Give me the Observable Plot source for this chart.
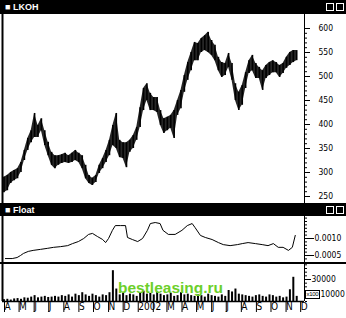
<!DOCTYPE html>
<html><head><meta charset="utf-8">
<script src="https://cdn.jsdelivr.net/npm/d3@7"></script>
<script src="https://cdn.jsdelivr.net/npm/@observablehq/plot@0.6"></script>
<style>
body{margin:0;background:#fff}
#root{position:relative;width:346px;height:318px;overflow:hidden;background:#fff}
.bar{position:absolute;left:0;width:346px;background:#000;color:#fff;font:bold 9px 'Liberation Sans','DejaVu Sans',sans-serif}
.bar .t{position:absolute;left:5px;top:1px;line-height:12px}
.bar .ic{position:absolute;top:3px;width:6px;height:6px;border:1px solid #fff}
.pl{position:absolute;left:0}
.sep{position:absolute;left:0;width:346px;height:2px;background:#000}
.wm{position:absolute;left:118px;top:279px;color:#6ccf2a;font:bold 15.5px 'Liberation Sans',Arial,sans-serif}
.x100{position:absolute;left:305px;top:290px;width:13px;height:7px;border:1px solid #000;background:#fff;font:6px 'Liberation Sans','DejaVu Sans',sans-serif;line-height:7px;text-align:center;color:#000;letter-spacing:-0.3px}
</style>
</head><body>
<div id="root">
  <div class="bar" style="top:0;height:14px"><span class="t">&#9632; LKOH</span><span class="ic" style="left:326px"></span><span class="ic" style="left:336px"></span></div>
  <div id="p1" class="pl" style="top:14px"></div>
  <div class="bar" style="top:203px;height:13px"><span class="t">&#9632; Float</span><span class="ic" style="left:326px"></span><span class="ic" style="left:336px"></span></div>
  <div id="p2" class="pl" style="top:216px"></div>
  <div class="sep" style="top:262px"></div>
  <div id="p3" class="pl" style="top:264px"></div>
  <div class="wm">bestleasing.ru</div>
  <div class="x100">x100</div>
</div>
<script>
// ---- data ----
const weekStart = "2001-04-04"; // weekly bars, one per 7 days
const priceHigh = [290,294,300,304,308,321,346,371,387,423,398,412,387,363,342,335,335,337,340,335,340,346,340,335,315,294,288,294,315,329,346,367,398,423,367,362,362,367,377,394,435,475,485,465,456,456,429,412,415,419,429,450,471,502,529,550,571,569,579,585,592,575,565,540,529,527,548,527,485,467,481,508,533,544,527,519,512,523,529,533,529,523,527,540,550,554,554];
const priceLow = [258,262,277,283,287,300,325,346,362,373,373,387,356,335,315,308,315,319,321,319,321,325,321,308,287,277,273,279,298,308,321,335,356,350,331,329,310,342,350,367,394,429,450,429,429,425,398,381,387,392,371,419,433,467,492,512,533,533,550,554,550,544,533,512,498,502,519,492,450,429,440,475,506,512,496,496,471,496,502,508,508,498,506,517,523,529,533];
const volume = [2500,3000,2000,3500,4000,3000,5000,4500,6000,8000,5000,6000,7000,5500,6000,7000,6000,8000,7000,9000,6000,10000,8000,12000,9000,7000,10000,8000,6000,9000,8000,12000,42000,17000,9000,11000,8000,10000,9000,7000,12000,14000,10000,11000,9000,13000,10000,8000,9000,11000,7000,8000,12000,9000,10000,8000,7000,9000,8000,6000,10000,8000,7000,6000,9000,7000,15000,13000,17000,10000,9000,8000,7000,6000,8000,9000,7000,6000,9000,8000,6000,7000,5000,6000,16000,33000,7000];
const floatDates = ["2001-04-07","2001-04-21","2001-05-01","2001-05-08","2001-05-14","2001-05-24","2001-06-03","2001-06-18","2001-07-02","2001-07-15","2001-07-29","2001-08-13","2001-08-23","2001-09-04","2001-09-15","2001-09-25","2001-10-03","2001-10-13","2001-10-24","2001-10-30","2001-11-05","2001-11-13","2001-11-19","2001-11-30","2001-12-10","2001-12-14","2001-12-24","2002-01-04","2002-01-14","2002-01-24","2002-01-30","2002-02-09","2002-02-19","2002-02-25","2002-03-08","2002-03-22","2002-04-05","2002-04-16","2002-04-26","2002-05-02","2002-05-13","2002-05-23","2002-06-06","2002-06-19","2002-06-29","2002-07-13","2002-07-28","2002-08-07","2002-08-19","2002-09-03","2002-09-17","2002-09-29","2002-10-10","2002-10-20","2002-10-30","2002-11-10","2002-11-18","2002-11-24"];
const floatVals = [0.00041,0.00041,0.00044,0.00050,0.00056,0.00062,0.00065,0.00068,0.00071,0.00074,0.00076,0.00079,0.00085,0.00091,0.00100,0.00112,0.00115,0.00106,0.00097,0.00088,0.00100,0.00124,0.00138,0.00138,0.00138,0.00103,0.00097,0.00091,0.00100,0.00124,0.00144,0.00147,0.00144,0.00124,0.00112,0.00112,0.00124,0.00138,0.00144,0.00132,0.00109,0.00103,0.00097,0.00088,0.00082,0.00079,0.00082,0.00085,0.00088,0.00085,0.00082,0.00079,0.00085,0.00074,0.00074,0.00065,0.00074,0.00109];
const priceTicks = [250,300,350,400,450,500,550,600];
const floatTicks = [0.0005,0.0010];
const volumeTicks = [30000];
const volumeTicksBoxed = [10000];
const monthLabels = ["","","M","A","M","J","J","A","S","O","N","D"]; // Jan shows the year
const xStart = "2001-04-01", xEnd = "2002-12-13";

// ---- build ----
const parse = s => new Date(s + "T00:00:00Z");
const t0 = parse(weekStart);
const weeks = priceHigh.map((h, i) => ({date: d3.utcDay.offset(t0, 7 * i), hi: h, lo: priceLow[i], vol: volume[i]}));
const floatData = floatDates.map((d, i) => ({date: parse(d), v: floatVals[i]}));
const xDomain = [parse(xStart), parse(xEnd)];
const xScale = {domain: xDomain, range: [2, 304]};
const font = "'Liberation Sans Narrow','DejaVu Sans Condensed','Liberation Sans',sans-serif";
const style = {fontFamily: font, fontSize: "9px", color: "#000", background: "transparent", overflow: "visible"};
const common = {width: 346, marginLeft: 2, marginRight: 42, style};
const frameLines = [
  Plot.ruleX([xDomain[0]], {stroke: "#000", strokeWidth: 2}),
  Plot.ruleX([xDomain[1]], {stroke: "#000", strokeWidth: 1})
];
const lbl = {fontSize: 8.5, letterSpacing: "-0.3px", label: null};

const p1 = Plot.plot({
  ...common, height: 189, marginTop: 0, marginBottom: 0,
  x: {...xScale, axis: null},
  y: {domain: [250, 600], range: [182, 14]},
  marks: [
    Plot.areaY(weeks, {x: "date", y1: "lo", y2: "hi", fill: "#000", fillOpacity: 0.85, curve: "linear"}),
    Plot.ruleX(weeks, {x: "date", y1: "lo", y2: "hi", stroke: "#000", strokeWidth: 1.6}),
    ...frameLines,
    Plot.axisY({anchor: "right", ticks: priceTicks, tickSize: 5, tickPadding: 9, ...lbl}),
    Plot.axisY({anchor: "right", ticks: d3.range(250, 601, 10), tickSize: 2, tickFormat: () => "", label: null})
  ]
});
document.getElementById("p1").append(p1);

const p2 = Plot.plot({
  ...common, height: 46, marginTop: 0, marginBottom: 0,
  x: {...xScale, axis: null},
  y: {domain: [0.0005, 0.0010], range: [39, 22]},
  marks: [
    Plot.lineY(floatData, {x: "date", y: "v", stroke: "#000", strokeWidth: 1, clip: true}),
    ...frameLines,
    Plot.axisY({anchor: "right", ticks: floatTicks, tickSize: 9, tickPadding: 1, tickFormat: d3.format(".4f"), ...lbl}),
    Plot.axisY({anchor: "right", ticks: d3.range(0.0004, 0.00161, 0.0001), tickSize: 2, tickFormat: () => "", label: null})
  ]
});
document.getElementById("p2").append(p2);

const months = d3.utcMonth.range(parse("2001-04-01"), parse("2002-12-02"));
const p3 = Plot.plot({
  ...common, height: 54, marginTop: 0, marginBottom: 17,
  x: {...xScale},
  y: {domain: [0, 30000], range: [37, 15]},
  marks: [
    Plot.ruleX(weeks, {x: "date", y1: 0, y2: "vol", stroke: "#000", strokeWidth: 2}),
    Plot.ruleY([0], {stroke: "#000", strokeWidth: 1.5}),
    ...frameLines,
    Plot.axisY({anchor: "right", ticks: volumeTicks, tickSize: 6, tickPadding: 1, tickFormat: d3.format("d"), ...lbl}),
    Plot.axisY({anchor: "right", ticks: volumeTicksBoxed, tickSize: 0, tickPadding: 16, tickFormat: d3.format("d"), ...lbl}),
    Plot.axisY({anchor: "right", ticks: d3.range(0, 50001, 5000), tickSize: 2, tickFormat: () => "", label: null}),
    Plot.axisX({anchor: "bottom", ticks: months, tickSize: 11, tickPadding: -10, textAnchor: "start", dx: 2, fontSize: 10, label: null,
      tickFormat: d => d.getUTCMonth() === 0 ? String(d.getUTCFullYear()) : monthLabels[d.getUTCMonth()]})
  ]
});
document.getElementById("p3").append(p3);
</script>
</body></html>
